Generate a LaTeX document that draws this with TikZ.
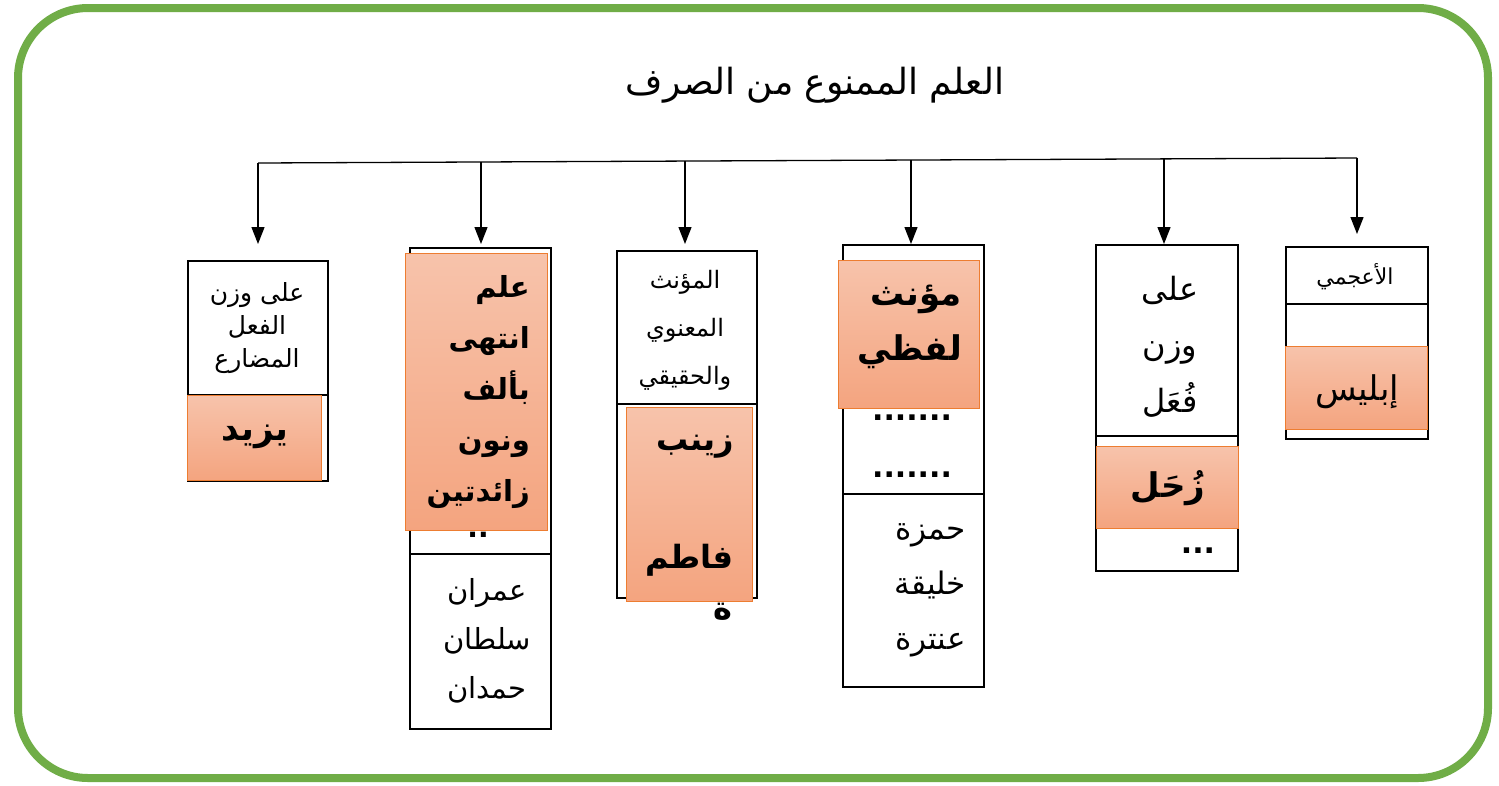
\documentclass[tikz,border=0pt]{standalone}
\usepackage{fontspec}
\newfontfamily\arabicfont[Script=Arabic]{DejaVu Sans}
\TeXXeTstate=1
\usetikzlibrary{arrows.meta}
\definecolor{grn}{HTML}{70AD47}
\definecolor{org}{HTML}{ED7D31}
\definecolor{otop}{HTML}{F7C3AB}
\definecolor{obot}{HTML}{F4A47F}
\newcommand\ARl[1]{\beginR #1\endR}
\newcommand\AF[2]{\arabicfont\fontsize{#1}{#2}\selectfont}
\newcommand\ABF[2]{\arabicfont\bfseries\fontsize{#1}{#2}\selectfont}
\begin{document}
\begin{tikzpicture}[x=1pt,y=-1pt,
 frame/.style={draw, line width=1.6pt, fill=white, anchor=north west, inner sep=0pt},
 hl/.style={draw=org, line width=1pt, top color=otop, bottom color=obot, anchor=north west, inner sep=0pt},
 divider/.style={line width=1.6pt},
 txt/.style={align=center, inner sep=0pt},
 btxt/.style={align=right, inner sep=0pt},
 arr/.style={-{Triangle[length=17pt,width=13pt]}, line width=1.3pt}]
\useasboundingbox (0,0) rectangle (1499,785);
\fill[white] (0,0) rectangle (1499,785);
\draw[grn, line width=8pt, rounded corners=70pt] (18,8) rectangle (1488,778);

% title
\node[txt, font=\AF{36}{40}] (title) at (815,85) {\ARl{العلم الممنوع من الصرف}};

% bus
\coordinate (busL) at (258,163);
\coordinate (busR) at (1357,158);
\draw[line width=1.3pt] (busL) -- (busR);
\coordinate (s1) at (258,163); \coordinate (e1) at (258,244);
\coordinate (s2) at (481,162); \coordinate (e2) at (481,244);
\coordinate (s3) at (685,161); \coordinate (e3) at (685,244);
\coordinate (s4) at (911,160); \coordinate (e4) at (911,244);
\coordinate (s5) at (1164,159); \coordinate (e5) at (1164,244);
\coordinate (s6) at (1357,158); \coordinate (e6) at (1357,234);
\foreach \i in {1,...,6} \draw[arr] (s\i) -- (e\i);

% box 1
\node[frame, minimum width=140pt, minimum height=220pt] (b1) at (187,260) {};
\draw[divider] (187,395) -- (327,395);
\node[txt, font=\AF{25}{33}] (t1) at (257,328) {\ARl{على وزن}\\\ARl{الفعل}\\\ARl{المضارع}};
\node[hl, minimum width=134pt, minimum height=85pt] (h1) at (187,395) {};
\node[btxt, font=\ABF{34}{40}] (n1) at (255,437) {\ARl{يزيد}};

% box 2
\node[frame, minimum width=141pt, minimum height=481pt] (b2) at (409,247) {};
\draw[divider] (409,554) -- (550,554);
\node[btxt, font=\ABF{28}{30}] (d2) at (478,535) {..};
\node[hl, minimum width=142pt, minimum height=277pt] (h2) at (405,253) {};
\node[btxt, anchor=east, font=\ABF{29}{51}] (n2) at (530,392) {\ARl{علم}\\\ARl{انتهى}\\\ARl{بألف}\\\ARl{ونون}\\\ARl{زائدتين}};
\node[txt, font=\AF{29}{49}] (t2) at (487,641) {\ARl{عمران}\\\ARl{سلطان}\\\ARl{حمدان}};

% box 3
\node[frame, minimum width=140pt, minimum height=347pt] (b3) at (616,250) {};
\draw[divider] (616,404) -- (756,404);
\node[txt, font=\AF{24}{48}] (t3) at (685,330) {\ARl{المؤنث}\\\ARl{المعنوي}\\\ARl{والحقيقي}};
\node[hl, minimum width=126pt, minimum height=194pt] (h3) at (626,407) {};
\node[btxt, anchor=east, font=\ABF{32}{40}] (n3a) at (734,447) {\ARl{زينب}};
\node[btxt, anchor=east, font=\ABF{32}{40}] (n3b) at (734,560) {\ARl{فاطم}};
\node[btxt, anchor=east, font=\ABF{32}{40}] (n3c) at (733,612) {\ARl{ة}};

% box 4
\node[frame, minimum width=141pt, minimum height=442pt] (b4) at (842,244) {};
\draw[divider] (842,494) -- (983,494);
\node[hl, minimum width=141pt, minimum height=148pt] (h4) at (838,260) {};
\node[btxt, anchor=east, font=\ABF{34}{55}] (n4) at (962,327) {\ARl{مؤنث}\\\ARl{لفظي}};
\node[btxt, font=\ABF{30}{30}] (d4a) at (912,418) {.......};
\node[btxt, font=\ABF{30}{30}] (d4b) at (912,475) {.......};
\node[btxt, anchor=east, font=\AF{31}{55}] (t4) at (966,590) {\ARl{حمزة}\\\ARl{خليقة}\\\ARl{عنترة}};

% box 5
\node[frame, minimum width=142pt, minimum height=326pt] (b5) at (1095,244) {};
\draw[divider] (1095,436) -- (1237,436);
\node[txt, font=\AF{32}{56}] (t5) at (1170,347) {\ARl{على}\\\ARl{وزن}\\\ARl{فُعَل}};
\node[hl, minimum width=142pt, minimum height=82pt] (h5) at (1096,446) {};
\node[btxt, font=\ABF{34}{40}] (n5) at (1168,488) {\ARl{زُحَل}};
\node[btxt, font=\ABF{30}{30}] (d5) at (1198,551) {...};

% box 6
\node[frame, minimum width=142pt, minimum height=192pt] (b6) at (1285,246) {};
\draw[divider] (1285,304) -- (1427,304);
\node[txt, font=\AF{22}{24}] (t6) at (1355,277) {\ARl{الأعجمي}};
\node[hl, minimum width=142pt, minimum height=83pt] (h6) at (1285,346) {};
\node[txt, font=\AF{34}{40}] (n6) at (1357,392) {\ARl{إبليس}};
\end{tikzpicture}
\end{document}
